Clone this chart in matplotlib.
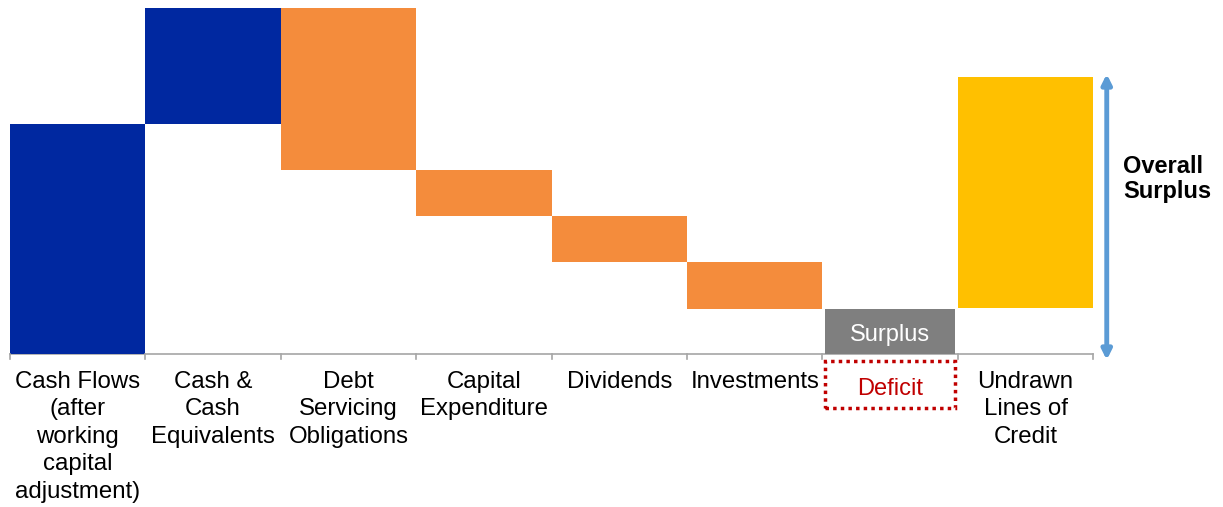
import matplotlib.pyplot as plt
from matplotlib.patches import Rectangle

plt.rcParams['font.family'] = ['Liberation Sans', 'DejaVu Sans']

categories = ['Cash Flows\n(after\nworking\ncapital\nadjustment)', 'Cash &\nCash\nEquivalents',
              'Debt\nServicing\nObligations', 'Capital\nExpenditure', 'Dividends',
              'Investments', '', 'Undrawn\nLines of\nCredit']
bottoms = [0, 230, 184, 138, 92, 45, 0, 46]
tops = [230, 346, 346, 184, 138, 92, 45, 277]
colors = ['#0028a0', '#0028a0', '#f48c3c', '#f48c3c', '#f48c3c', '#f48c3c', '#7f7f7f', '#ffc000']
widths = [1, 1, 1, 1, 1, 1, 0.96, 1]

fig = plt.figure(figsize=(12.23, 5.07), dpi=100)
ax = fig.add_axes([0, 0, 1, 1])
ax.set_xlim(-10 / 135.4, 1213 / 135.4)
ax.set_ylim(-153, 354)
ax.axis('off')

x = [i + 0.5 for i in range(len(categories))]
heights = [t - b for t, b in zip(tops, bottoms)]
ax.bar(x, heights, bottom=bottoms, width=widths, color=colors, zorder=2)

# axis line with ticks at the category borders
ax.plot([0, 8], [0, 0], color='#a6a6a6', lw=1.2, zorder=1)
for i in range(9):
    ax.plot([i, i], [0, -5], color='#a6a6a6', lw=1.2)

for xi, lab in zip(x, categories):
    ax.text(xi, -17, lab, ha='center', va='top', fontsize=17.3, linespacing=1.32)

ax.text(x[6], 18.5, 'Surplus', ha='center', va='center', fontsize=17, color='white', zorder=3)
ax.add_patch(Rectangle((6.02, -54), 0.96, 47, fill=False, edgecolor='#c00000',
                       linestyle=(0, (1, 1.2)), lw=2.5))
ax.text(x[6], -35, 'Deficit', ha='center', va='center', fontsize=17, color='#c00000')

# overall surplus arrow
ax.annotate('', xy=(8.1, 280), xytext=(8.1, -6),
            arrowprops=dict(arrowstyle='<|-|>', color='#5b9bd5', lw=3.5, mutation_scale=14,
                            shrinkA=0, shrinkB=0))
ax.text(8.22, 175, 'Overall\nSurplus', ha='left', va='center', fontsize=17,
        fontweight='bold', linespacing=1.12)

fig.savefig('out.png', dpi=100)
